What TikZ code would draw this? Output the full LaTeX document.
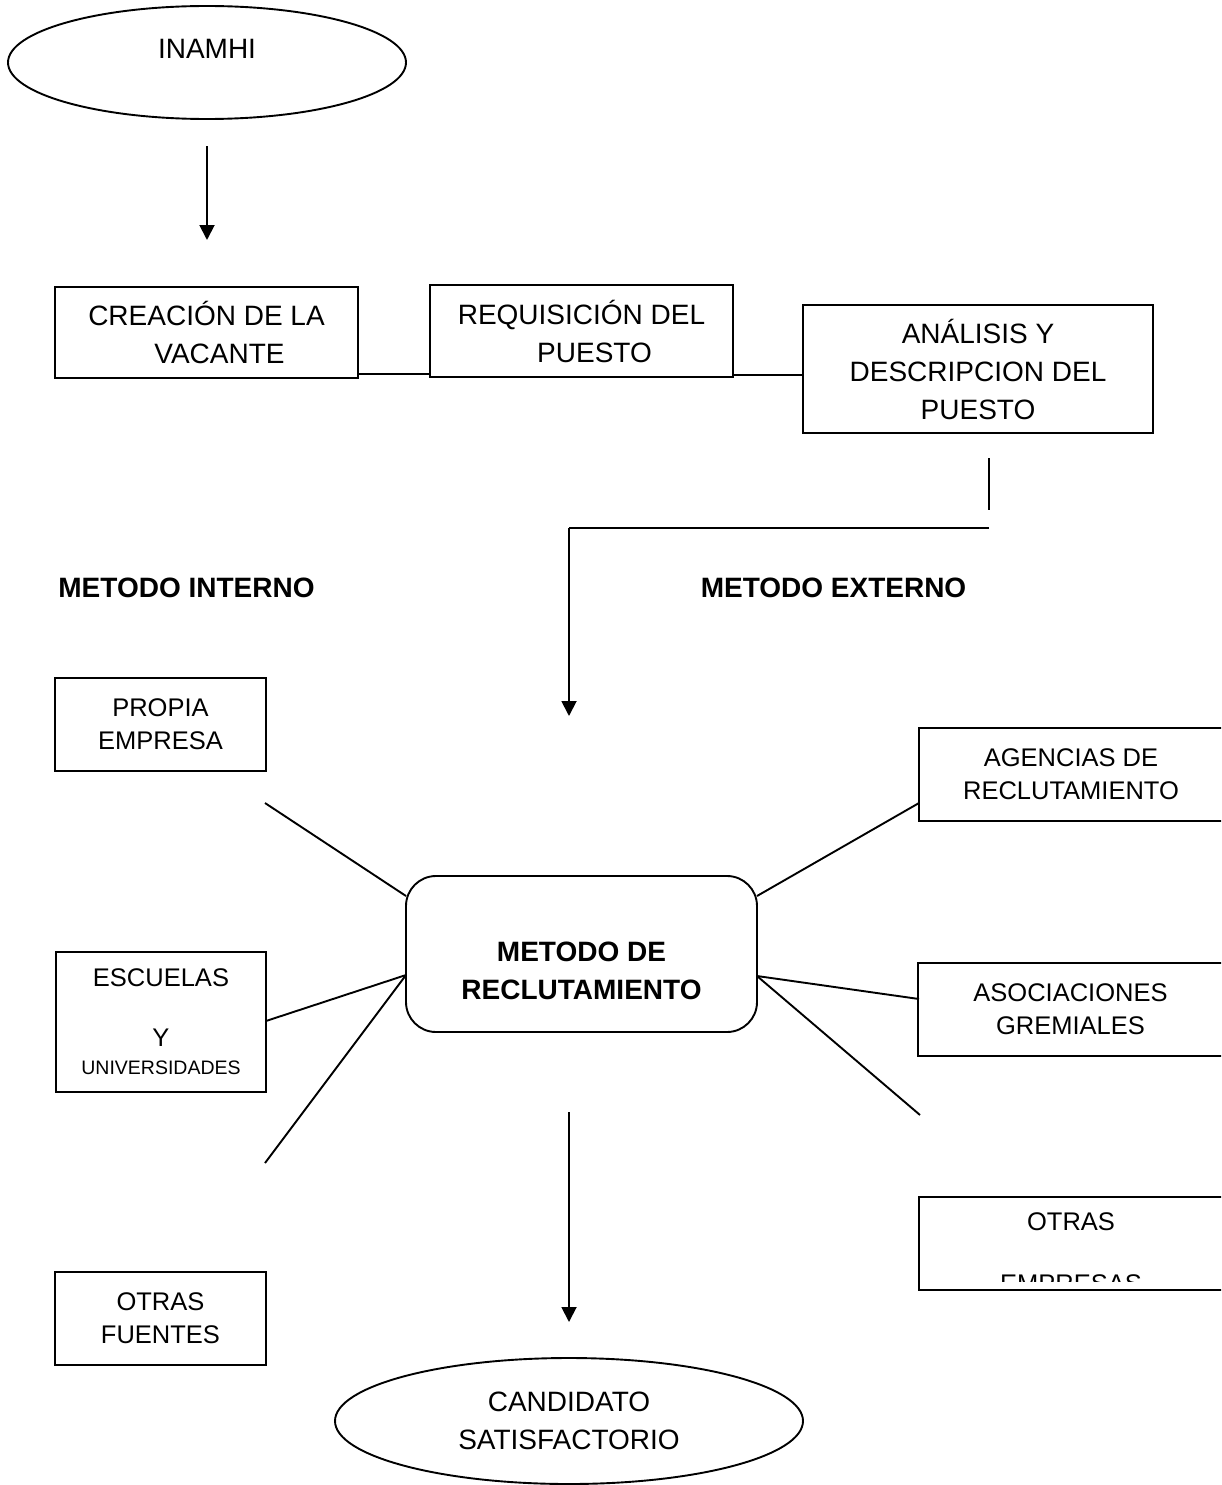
\documentclass[tikz,border=0pt]{standalone}
\usepackage{fontspec}
\setmainfont{Liberation Sans}
\usetikzlibrary{arrows.meta,shapes.geometric}
\begin{document}
\begin{tikzpicture}[x=1pt,y=-1pt,
  line width=1.9pt,
  big/.style={font=\fontsize{28}{38}\selectfont},
  bigb/.style={font=\fontsize{28}{38}\selectfont\bfseries},
  mid/.style={font=\fontsize{25.5}{33}\selectfont},
  box/.style={draw, rectangle, inner sep=0pt, outer sep=0pt, align=center},
  oval/.style={draw, ellipse, inner sep=0pt, outer sep=0pt, align=center},
  txt/.style={inner sep=0pt, align=center},
  arr/.style={-{Triangle[width=15pt,length=15pt]}},
]
\useasboundingbox (0,0) rectangle (1221,1485);
\clip (0,0) rectangle (1221,1485);
\fill[white] (0,0) rectangle (1221,1485);

% top: institution and arrow
\node[oval, minimum width=398pt, minimum height=113pt] (inamhi) at (207,62.5) {};
\node[txt, big] (inamhiT) at (207,49) {INAMHI};
\coordinate (a1s) at (207,146);
\coordinate (a1e) at (207,240);
\draw[arr] (a1s) -- (a1e);

% first row of steps
\node[box, big, minimum width=303pt, minimum height=91pt] (crea) at (206.5,332.5)
  {CREACIÓN DE LA\\\hspace*{26pt}VACANTE};
\node[box, big, minimum width=303pt, minimum height=92pt] (requ) at (581.5,331)
  {REQUISICIÓN DEL\\\hspace*{26pt}PUESTO};
\node[box, big, minimum width=350pt, minimum height=128pt] (anal) at (978,369)
  {ANÁLISIS Y\\DESCRIPCION DEL\\PUESTO};

\coordinate (c1a) at (358,374);
\coordinate (c1b) at (430,374);
\coordinate (c2a) at (733,375);
\coordinate (c2b) at (803,375);
\draw (c1a) -- (c1b);
\draw (c2a) -- (c2b);

% elbow down to the method box
\coordinate (v1a) at (989,458);
\coordinate (v1b) at (989,510);
\coordinate (h1a) at (989,528);
\coordinate (h1b) at (569,528);
\coordinate (a2e) at (569,716);
\draw (v1a) -- (v1b);
\draw (h1a) -- (h1b);
\draw[arr] (h1b) -- (a2e);

% section headings
\node[txt, bigb] (mint) at (186.5,588) {METODO INTERNO};
\node[txt, bigb] (mext) at (833.5,588) {METODO EXTERNO};

% central box
\node[draw, rectangle, rounded corners=30pt, inner sep=0pt, outer sep=0pt,
      minimum width=351pt, minimum height=156pt] (metodo) at (581.5,954) {};
\node[txt, bigb] (metodoT) at (581.5,971) {METODO DE\\RECLUTAMIENTO};

% internal sources
\node[box, mid, minimum width=211pt, minimum height=93pt] (propia) at (160.5,724.5)
  {PROPIA\\EMPRESA};
\node[box, minimum width=210pt, minimum height=140pt] (escu) at (161,1022) {};
\node[txt, mid] (escu1) at (161,978) {ESCUELAS};
\node[txt, mid] (escu2) at (161,1038) {Y};
\node[txt, font=\fontsize{19.5}{24}\selectfont] (escu3) at (161,1068) {UNIVERSIDADES};
\node[box, mid, minimum width=211pt, minimum height=93pt] (otrasf) at (160.5,1318.5)
  {OTRAS\\FUENTES};

% external sources (cut at the right margin)
\node[box, mid, minimum width=304pt, minimum height=93pt] (agen) at (1071,774.5)
  {AGENCIAS DE\\RECLUTAMIENTO};
\node[box, mid, minimum width=305pt, minimum height=93pt] (asoc) at (1070.5,1009.5)
  {ASOCIACIONES\\GREMIALES};
\node[box, minimum width=304pt, minimum height=93pt] (otrase) at (1071,1243.5) {};
\begin{scope}
  \clip (otrase.north west) rectangle ([xshift=-1pt,yshift=9pt]otrase.south east);
  \node[txt, mid] (otrase1) at (1071,1222) {OTRAS};
  \node[txt, mid] (otrase2) at (1071,1284) {EMPRESAS};
\end{scope}

% spokes around the central box
\coordinate (l1) at (265,803);
\coordinate (l2) at (266,1021);
\coordinate (l3) at (265,1163);
\coordinate (r1) at (919,803);
\coordinate (r2) at (919,999);
\coordinate (r3) at (920,1115);
\coordinate (mL1) at (406,896);
\coordinate (mL2) at (406,975);
\coordinate (mR1) at (757,896);
\coordinate (mR2) at (757,976);
\draw (l1) -- (mL1);
\draw (l2) -- (mL2);
\draw (l3) -- (mL2);
\draw (r1) -- (mR1);
\draw (r2) -- (mR2);
\draw (r3) -- (mR2);

% result
\coordinate (a3s) at (569,1112);
\coordinate (a3e) at (569,1322);
\draw[arr] (a3s) -- (a3e);
\node[oval, big, minimum width=468pt, minimum height=126pt] (cand) at (569,1421)
  {CANDIDATO\\SATISFACTORIO};
\end{tikzpicture}
\end{document}
